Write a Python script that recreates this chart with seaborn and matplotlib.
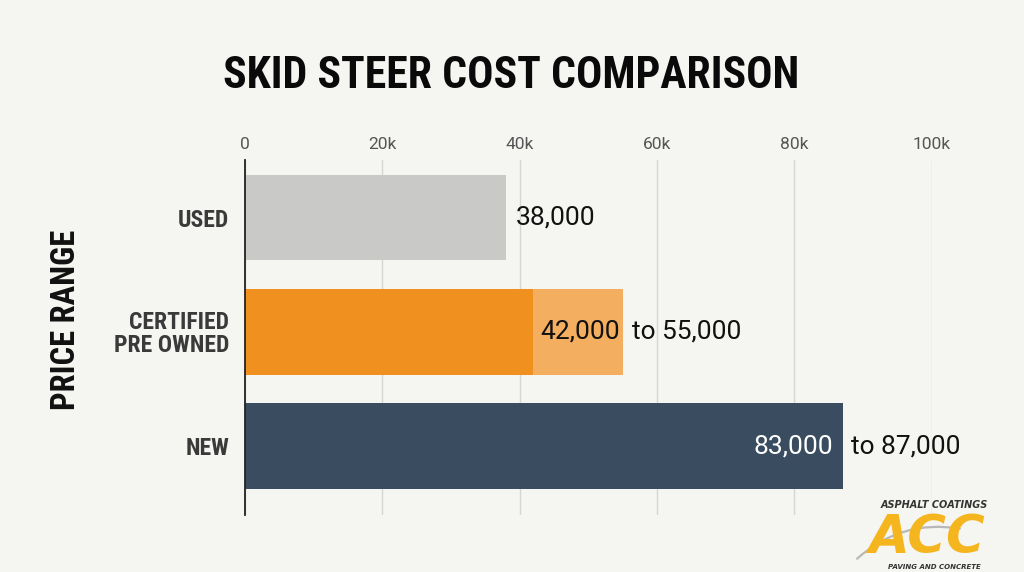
import matplotlib
matplotlib.use("Agg")
import matplotlib.pyplot as plt
from matplotlib import font_manager
from matplotlib.ticker import FuncFormatter
from matplotlib.patches import FancyArrowPatch
import seaborn as sns
import pandas as pd

categories = ["USED", "CERTIFIED\nPRE OWNED", "NEW"]
price_low = [38000, 42000, 83000]
price_high = [38000, 55000, 87000]
ticks = [0, 20000, 40000, 60000, 80000, 100000]

dark_colors = ["#c9c9c7", "#f0911f", "#3a4d60"]
light_colors = ["#c9c9c7", "#f4ae60", "#3a4d60"]
bg = "#f5f6f1"

sns.set_theme(style="white")
installed = {f.name for f in font_manager.fontManager.ttflist}
narrow = "Roboto"
for cand in ["Roboto Condensed", "Liberation Sans Narrow", "DejaVu Sans Condensed"]:
    if cand in installed:
        narrow = cand
        break
plt.rcParams["font.family"] = ["Roboto", "DejaVu Sans"]

df = pd.DataFrame({"cat": categories, "low": price_low, "high": price_high})

fig = plt.figure(figsize=(10.24, 5.72), dpi=100, facecolor=bg)
ax = fig.add_axes([0.239, 0.0997, 0.671, 0.620], facecolor=bg)

sns.barplot(data=df, x="high", y="cat", hue="cat", palette=light_colors,
            legend=False, width=0.75, ax=ax, saturation=1, zorder=3, linewidth=0)
sns.barplot(data=df, x="low", y="cat", hue="cat", palette=dark_colors,
            legend=False, width=0.75, ax=ax, saturation=1, zorder=3, linewidth=0)

ax.set_xlim(0, 100000)
ax.set_ylim(2.6, -0.5)
ax.set_xticks(ticks)
ax.xaxis.set_major_formatter(FuncFormatter(lambda v, p: "0" if v == 0 else f"{int(v/1000)}k"))
ax.xaxis.tick_top()
ax.tick_params(axis="x", length=0, pad=6, labelsize=12.5, labelcolor="#555555")
ax.tick_params(axis="y", length=0, pad=11)
for lab in ax.get_yticklabels():
    lab.set_fontfamily([narrow, "DejaVu Sans"])
    lab.set_fontweight("bold")
    lab.set_fontsize(17)
    lab.set_color("#3a3a3a")
    lab.set_linespacing(1.0)
ax.xaxis.grid(True, color="#d6d6d4", linewidth=1, zorder=0)
ax.set_xlabel("")
ax.set_ylabel("")
for s in ["top", "right", "bottom"]:
    ax.spines[s].set_visible(False)
ax.spines["left"].set_color("#222222")
ax.spines["left"].set_linewidth(1.3)
ax.spines["left"].set_zorder(5)

fig.text(0.064, 1 - 320 / 572, "PRICE RANGE", rotation=90, ha="center", va="center",
         fontsize=23.5, fontweight="bold", color="#111111", family=[narrow, "DejaVu Sans"])

# value labels
fs = 19
for i, (lo, hi) in enumerate(zip(price_low, price_high)):
    if lo == hi:
        ax.annotate(f"{lo:,}", (hi, i), xytext=(7, 0), textcoords="offset points",
                    va="center", ha="left", fontsize=fs, color="#111111")
    elif i == 1:
        ax.annotate(f"{lo:,}", (lo, i), xytext=(5, 0), textcoords="offset points",
                    va="center", ha="left", fontsize=fs, color="#111111")
        ax.annotate(f"to {hi:,}", (hi, i), xytext=(7, 0), textcoords="offset points",
                    va="center", ha="left", fontsize=fs, color="#111111")
    else:
        ax.annotate(f"{lo:,}", (hi, i), xytext=(-6.5, 0), textcoords="offset points",
                    va="center", ha="right", fontsize=fs, color="white")
        ax.annotate(f"to {hi:,}", (hi, i), xytext=(6, 0), textcoords="offset points",
                    va="center", ha="left", fontsize=fs, color="#111111", annotation_clip=False)

fig.text(0.4995, 0.868, "SKID STEER COST COMPARISON", ha="center", va="center",
         fontsize=31.5, fontweight="bold", color="#0a0a0a", family=[narrow, "DejaVu Sans"])

# logo
fig.text(0.912, 0.117, "ASPHALT COATINGS", ha="center", va="center", fontsize=7,
         fontweight="bold", style="italic", color="#333333", family=["DejaVu Sans"])
fig.text(0.905, 1 - 553 / 572, "ACC", ha="center", va="baseline", fontsize=38,
         fontweight="heavy", style="italic", color="#f5b51f", family=["DejaVu Sans"])
fig.add_artist(FancyArrowPatch((0.835, 0.02), (0.94, 0.075), transform=fig.transFigure,
                               connectionstyle="arc3,rad=-0.25", arrowstyle="-",
                               color="#b8b8b8", linewidth=1.6, zorder=0))
fig.text(0.912, 0.004, "PAVING AND CONCRETE", ha="center", va="bottom", fontsize=5,
         fontweight="bold", style="italic", color="#333333", family=["DejaVu Sans"])

fig.savefig("out.png", dpi=100, facecolor=bg)
